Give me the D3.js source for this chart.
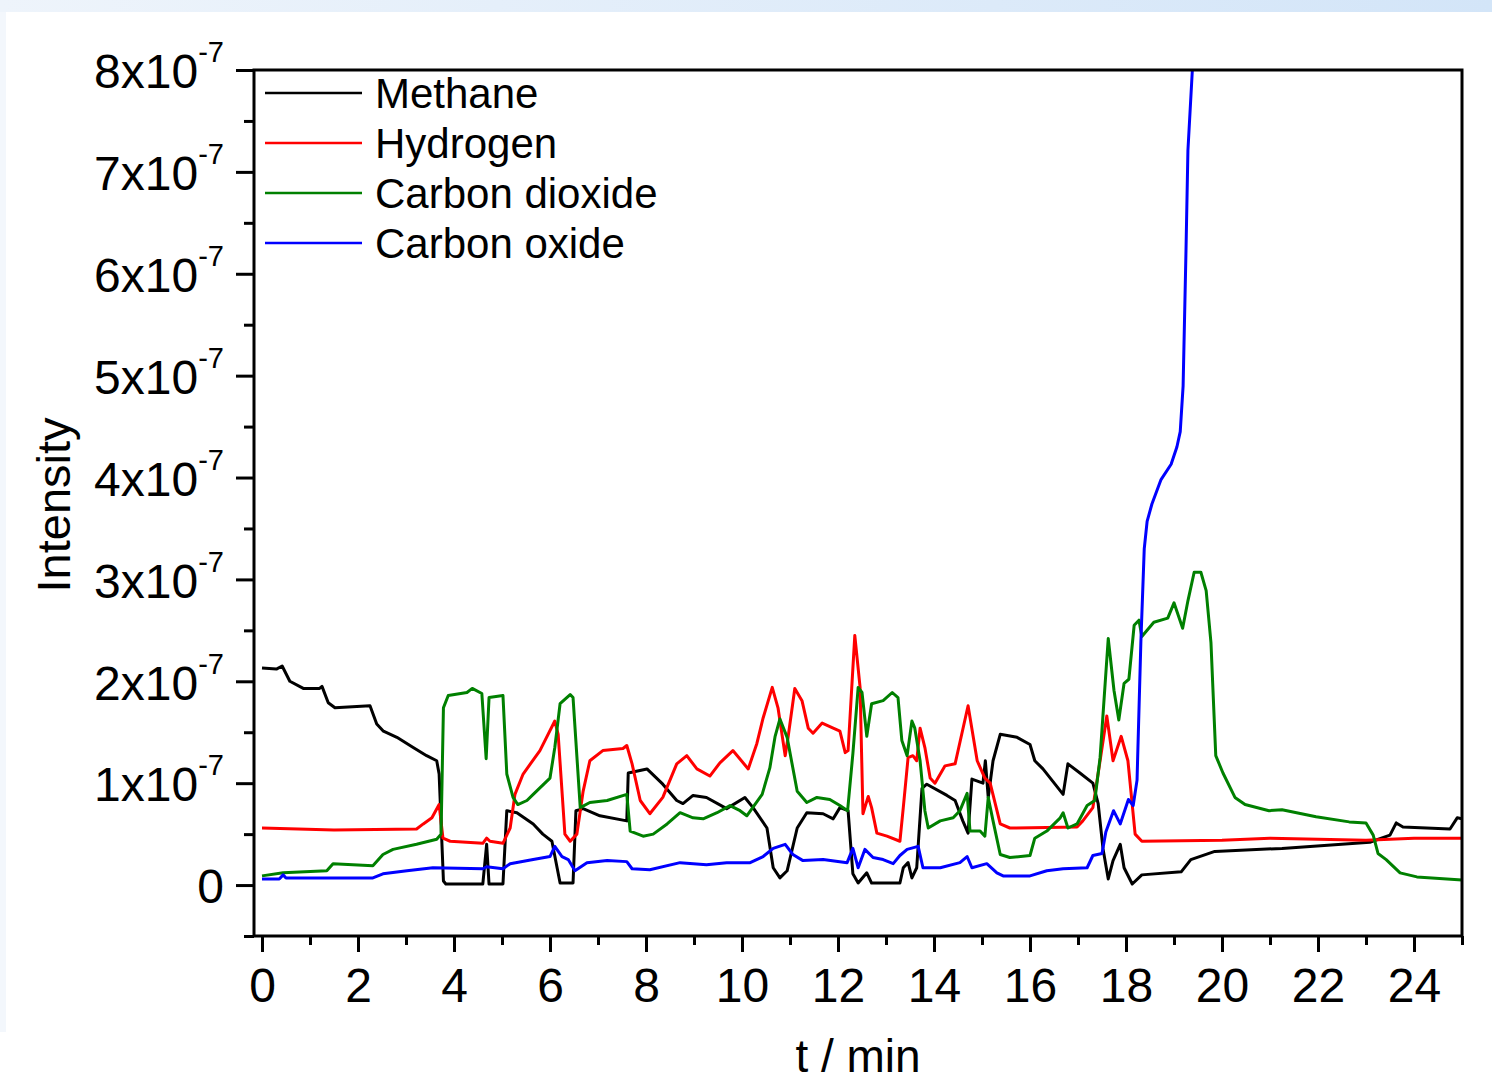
<!DOCTYPE html>
<html>
<head>
<meta charset="utf-8">
<script src="https://cdn.jsdelivr.net/npm/d3@7"></script>
<style>
  body { margin: 0; background: #fff; }
  svg { display: block; font-family: Arial, "Liberation Sans", sans-serif; }
</style>
</head>
<body>
<svg id="chart" width="1492" height="1083"></svg>
<script>
// intensity values are in units of 1e-7, time in minutes
var seriesNames = ["Methane", "Hydrogen", "Carbon dioxide", "Carbon oxide"];
var seriesColors = ["#000000", "#ff0000", "#008000", "#0000ff"];

var methane = [[0,2.13],[0.3,2.12],[0.42,2.15],[0.58,2.0],[0.86,1.93],[1.2,1.93],[1.25,1.95],[1.38,1.79],[1.52,1.74],[2.25,1.76],[2.39,1.58],[2.53,1.51],[2.81,1.45],[3.15,1.35],[3.43,1.27],[3.64,1.22],[3.69,1.09],[3.78,0.04],[3.83,0.01],[4.6,0.01],[4.68,0.40],[4.73,0.01],[5.02,0.01],[5.1,0.73],[5.31,0.71],[5.65,0.60],[5.85,0.50],[6.04,0.43],[6.21,0.02],[6.48,0.02],[6.54,0.73],[6.69,0.75],[7.04,0.68],[7.6,0.63],[7.63,1.10],[8.02,1.14],[8.35,0.99],[8.64,0.83],[8.77,0.80],[8.98,0.88],[9.26,0.86],[9.68,0.75],[10.06,0.86],[10.23,0.76],[10.52,0.56],[10.65,0.17],[10.79,0.07],[10.94,0.14],[11.15,0.56],[11.35,0.71],[11.69,0.70],[11.9,0.65],[12.04,0.76],[12.21,0.73],[12.31,0.11],[12.42,0.02],[12.6,0.12],[12.7,0.02],[13.29,0.02],[13.36,0.17],[13.46,0.22],[13.54,0.07],[13.64,0.17],[13.75,0.95],[13.85,0.99],[14.27,0.88],[14.44,0.83],[14.6,0.63],[14.71,0.51],[14.79,1.04],[15.02,1.00],[15.07,1.22],[15.13,0.86],[15.23,1.22],[15.38,1.48],[15.73,1.45],[16.0,1.38],[16.1,1.22],[16.27,1.14],[16.69,0.89],[16.79,1.19],[17.04,1.10],[17.31,1.00],[17.42,0.80],[17.52,0.36],[17.63,0.06],[17.73,0.24],[17.88,0.40],[17.96,0.17],[18.13,0.01],[18.33,0.10],[19.15,0.13],[19.35,0.25],[19.85,0.33],[21.25,0.36],[23.08,0.42],[23.5,0.49],[23.63,0.61],[23.77,0.57],[24.75,0.55],[24.9,0.66],[25,0.65]];

var hydrogen = [[0,0.56],[1.5,0.54],[3.22,0.55],[3.36,0.60],[3.54,0.66],[3.69,0.79],[3.77,0.46],[3.92,0.43],[4.6,0.41],[4.68,0.46],[4.75,0.43],[5.02,0.41],[5.17,0.56],[5.27,0.89],[5.44,1.09],[5.79,1.32],[6.1,1.61],[6.17,1.48],[6.31,0.50],[6.42,0.43],[6.56,0.50],[6.69,0.92],[6.83,1.22],[7.1,1.32],[7.52,1.34],[7.6,1.37],[7.71,1.19],[7.88,0.83],[8.08,0.70],[8.35,0.86],[8.64,1.19],[8.85,1.27],[9.06,1.14],[9.33,1.07],[9.54,1.2],[9.81,1.32],[10.13,1.14],[10.31,1.39],[10.44,1.64],[10.63,1.94],[10.75,1.74],[10.9,1.27],[10.96,1.45],[11.1,1.93],[11.25,1.81],[11.38,1.54],[11.48,1.49],[11.67,1.59],[11.9,1.54],[12.04,1.51],[12.15,1.30],[12.21,1.32],[12.35,2.45],[12.46,1.94],[12.52,0.70],[12.63,0.87],[12.7,0.76],[12.81,0.51],[13.02,0.48],[13.29,0.43],[13.36,0.76],[13.46,1.25],[13.56,1.27],[13.64,1.22],[13.71,1.54],[13.81,1.35],[13.92,1.05],[14.02,1.00],[14.23,1.17],[14.44,1.19],[14.71,1.76],[14.9,1.22],[15.06,1.05],[15.17,1.0],[15.38,0.60],[15.58,0.56],[16.98,0.57],[17.1,0.63],[17.31,0.76],[17.46,1.22],[17.6,1.66],[17.73,1.22],[17.9,1.46],[18.04,1.22],[18.19,0.50],[18.33,0.43],[20,0.44],[21,0.46],[22,0.45],[23,0.44],[24,0.46],[25,0.46]];

var carbonDioxide = [[0,0.09],[0.44,0.12],[1.35,0.14],[1.48,0.21],[2.31,0.19],[2.52,0.30],[2.73,0.35],[3.22,0.40],[3.64,0.45],[3.73,0.50],[3.78,1.74],[3.88,1.86],[4.27,1.89],[4.38,1.93],[4.58,1.88],[4.67,1.24],[4.73,1.84],[5.02,1.86],[5.1,1.09],[5.23,0.86],[5.33,0.79],[5.52,0.83],[5.65,0.89],[6.0,1.05],[6.1,1.35],[6.21,1.78],[6.42,1.87],[6.48,1.84],[6.63,0.76],[6.83,0.81],[7.19,0.83],[7.6,0.89],[7.67,0.53],[7.94,0.48],[8.15,0.50],[8.44,0.60],[8.71,0.71],[8.98,0.66],[9.19,0.65],[9.48,0.71],[9.75,0.78],[9.96,0.73],[10.1,0.68],[10.42,0.89],[10.58,1.15],[10.69,1.46],[10.79,1.63],[10.94,1.45],[11.15,0.92],[11.35,0.81],[11.56,0.86],[11.83,0.84],[12.04,0.78],[12.2,0.73],[12.31,1.29],[12.42,1.94],[12.5,1.89],[12.6,1.46],[12.7,1.78],[12.94,1.81],[13.13,1.89],[13.25,1.84],[13.33,1.42],[13.44,1.27],[13.54,1.61],[13.6,1.54],[13.71,1.22],[13.81,0.73],[13.88,0.56],[14.13,0.63],[14.4,0.66],[14.54,0.73],[14.69,0.90],[14.75,0.53],[14.96,0.53],[15.06,0.48],[15.13,0.86],[15.23,0.63],[15.38,0.30],[15.58,0.27],[16.0,0.29],[16.1,0.46],[16.35,0.53],[16.63,0.66],[16.69,0.71],[16.79,0.56],[16.98,0.60],[17.19,0.78],[17.35,0.83],[17.46,1.25],[17.56,1.94],[17.63,2.42],[17.75,1.91],[17.85,1.62],[17.96,1.98],[18.06,2.02],[18.17,2.55],[18.27,2.60],[18.33,2.44],[18.58,2.58],[18.87,2.62],[19.0,2.77],[19.18,2.52],[19.29,2.79],[19.42,3.07],[19.56,3.07],[19.67,2.89],[19.77,2.38],[19.87,1.27],[20.02,1.10],[20.27,0.86],[20.48,0.79],[20.98,0.73],[21.25,0.74],[21.96,0.67],[22.65,0.62],[23.0,0.61],[23.15,0.49],[23.25,0.31],[23.42,0.25],[23.71,0.12],[24.06,0.08],[25,0.05]];

var carbonOxide = [[0,0.06],[0.36,0.06],[0.44,0.10],[0.5,0.07],[2.31,0.07],[2.52,0.11],[3.02,0.14],[3.56,0.17],[4.6,0.16],[4.68,0.18],[5.02,0.16],[5.17,0.21],[5.65,0.25],[6.0,0.28],[6.1,0.38],[6.25,0.28],[6.38,0.25],[6.52,0.14],[6.77,0.22],[7.19,0.24],[7.6,0.23],[7.71,0.16],[8.08,0.15],[8.71,0.22],[9.26,0.20],[9.68,0.22],[10.17,0.22],[10.44,0.28],[10.65,0.36],[10.9,0.40],[11.06,0.30],[11.27,0.24],[11.69,0.25],[12.19,0.22],[12.31,0.36],[12.42,0.17],[12.56,0.35],[12.73,0.27],[12.94,0.25],[13.15,0.21],[13.29,0.29],[13.44,0.35],[13.67,0.38],[13.77,0.17],[14.13,0.17],[14.54,0.22],[14.69,0.28],[14.79,0.17],[15.1,0.21],[15.31,0.12],[15.44,0.09],[16.0,0.09],[16.35,0.14],[16.69,0.16],[17.19,0.17],[17.31,0.29],[17.5,0.31],[17.58,0.52],[17.74,0.73],[17.88,0.60],[18.05,0.84],[18.15,0.78],[18.23,1.03],[18.31,2.39],[18.38,3.30],[18.44,3.57],[18.54,3.74],[18.73,3.98],[18.94,4.13],[19.06,4.30],[19.13,4.45],[19.19,4.9],[19.25,6.23],[19.29,7.21],[19.38,7.98],[19.41,8.4]];

var allSeries = [methane, hydrogen, carbonDioxide, carbonOxide];

var yMajorTicks = [0, 1, 2, 3, 4, 5, 6, 7, 8];
var yMinorTicks = [-0.5, 0.5, 1.5, 2.5, 3.5, 4.5, 5.5, 6.5, 7.5];
var xMajorTicks = [0, 2, 4, 6, 8, 10, 12, 14, 16, 18, 20, 22, 24];
var xMinorTicks = [1, 3, 5, 7, 9, 11, 13, 15, 17, 19, 21, 23, 25];

(function() {
  var svg = d3.select("#chart");
  var defs = svg.append("defs");

  // window chrome: light blue strip on top and faint edge on the left
  var grad = defs.append("linearGradient").attr("id", "topband");
  grad.append("stop").attr("offset", "0%").attr("stop-color", "#eef4fb");
  grad.append("stop").attr("offset", "100%").attr("stop-color", "#d3e5f8");
  svg.append("rect").attr("x", 0).attr("y", 0).attr("width", 1492).attr("height", 12).attr("fill", "url(#topband)");
  svg.append("rect").attr("x", 0).attr("y", 12).attr("width", 6).attr("height", 1020).attr("fill", "#f3f7fc");

  var plotLeft = 254, plotRight = 1462, plotTop = 70, plotBottom = 936;

  var x = d3.scaleLinear().domain([-8 / 48, 25]).range([plotLeft, plotRight]);
  var y = d3.scaleLinear().domain([-0.5, 8]).range([plotBottom, plotTop]);

  defs.append("clipPath").attr("id", "plotclip")
    .append("rect").attr("x", plotLeft).attr("y", plotTop)
    .attr("width", plotRight - plotLeft).attr("height", plotBottom - plotTop);

  // lines
  var line = d3.line().x(function(d){ return x(d[0]); }).y(function(d){ return y(d[1]); });
  var gLines = svg.append("g").attr("clip-path", "url(#plotclip)");
  allSeries.forEach(function(s, i){
    gLines.append("path")
      .datum(s)
      .attr("d", line)
      .attr("fill", "none")
      .attr("stroke", seriesColors[i])
      .attr("stroke-width", 3)
      .attr("stroke-linejoin", "round");
  });

  // axes
  function styleAxis(g){
    g.select(".domain").remove();
    g.selectAll(".tick line").attr("stroke", "#000").attr("stroke-width", 3);
  }

  var gYMinor = svg.append("g").attr("transform", "translate(" + plotLeft + ",0)")
    .call(d3.axisLeft(y).tickValues(yMinorTicks).tickSize(10).tickFormat(""));
  styleAxis(gYMinor);

  var gY = svg.append("g").attr("transform", "translate(" + plotLeft + ",0)")
    .call(d3.axisLeft(y).tickValues(yMajorTicks).tickSize(18).tickPadding(12));
  styleAxis(gY);
  gY.selectAll(".tick text")
    .attr("font-size", 48)
    .attr("fill", "#000")
    .attr("dy", "0.37em")
    .each(function(d){
      var t = d3.select(this);
      t.text(null);
      if (d === 0) { t.text("0"); return; }
      t.append("tspan").text(d + "x10");
      t.append("tspan").attr("dy", -26).attr("font-size", 29).text("-7");
    });

  var gXMinor = svg.append("g").attr("transform", "translate(0," + plotBottom + ")")
    .call(d3.axisBottom(x).tickValues(xMinorTicks).tickSize(9).tickFormat(""));
  styleAxis(gXMinor);

  var gX = svg.append("g").attr("transform", "translate(0," + plotBottom + ")")
    .call(d3.axisBottom(x).tickValues(xMajorTicks).tickSize(16).tickPadding(16).tickFormat(d3.format("d")));
  styleAxis(gX);
  gX.selectAll(".tick text").attr("font-size", 48).attr("fill", "#000");

  // frame
  svg.append("rect")
    .attr("x", plotLeft).attr("y", plotTop)
    .attr("width", plotRight - plotLeft).attr("height", plotBottom - plotTop)
    .attr("fill", "none").attr("stroke", "#000").attr("stroke-width", 3);

  // axis titles
  svg.append("text")
    .attr("transform", "translate(70," + ((plotTop + plotBottom) / 2 + 2) + ") rotate(-90)")
    .attr("text-anchor", "middle")
    .attr("font-size", 47)
    .text("Intensity");

  svg.append("text")
    .attr("x", 858).attr("y", 1072)
    .attr("text-anchor", "middle")
    .attr("font-size", 46)
    .text("t / min");

  // legend
  var legend = svg.append("g");
  seriesNames.forEach(function(name, i){
    var ly = 93 + i * 50;
    legend.append("line")
      .attr("x1", 265).attr("x2", 362).attr("y1", ly).attr("y2", ly)
      .attr("stroke", seriesColors[i]).attr("stroke-width", 2.6);
    legend.append("text")
      .attr("x", 375).attr("y", ly).attr("dy", "0.35em")
      .attr("font-size", 42)
      .text(name);
  });
})();
</script>
</body>
</html>
